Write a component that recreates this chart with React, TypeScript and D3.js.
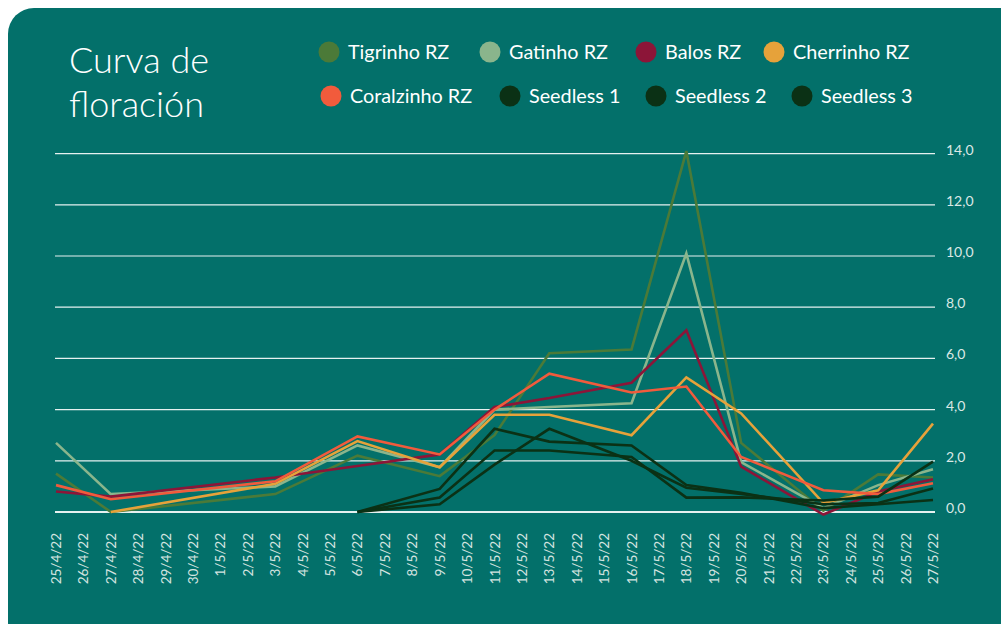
import React from 'react';
import * as d3 from 'd3';

// all days shown on the axis
const dates = [
  '25/4/22', '26/4/22', '27/4/22', '28/4/22', '29/4/22', '30/4/22',
  '1/5/22', '2/5/22', '3/5/22', '4/5/22', '5/5/22', '6/5/22', '7/5/22',
  '8/5/22', '9/5/22', '10/5/22', '11/5/22', '12/5/22', '13/5/22', '14/5/22',
  '15/5/22', '16/5/22', '17/5/22', '18/5/22', '19/5/22', '20/5/22', '21/5/22',
  '22/5/22', '23/5/22', '24/5/22', '25/5/22', '26/5/22', '27/5/22',
];

// days on which flowering was counted
const sampleDates = [
  '25/4/22', '27/4/22', '3/5/22', '6/5/22', '9/5/22', '11/5/22', '13/5/22',
  '16/5/22', '18/5/22', '20/5/22', '23/5/22', '25/5/22', '27/5/22',
];

const tigrinho = [1.5, 0.0, 0.7, 2.2, 1.4, 3.0, 6.2, 6.35, 14.1, 2.7, 0.05, 1.47, 1.35];
const gatinho = [2.7, 0.7, 1.0, 2.6, 1.75, 4.0, 4.1, 4.25, 10.1, 1.95, 0.15, 1.05, 1.67];
const balos = [0.8, 0.6, 1.35, 1.8, 2.25, 4.1, 4.45, 5.05, 7.1, 1.77, -0.1, 0.8, 1.28];
const cherrinho = [null, 0.0, 1.1, 2.77, 1.75, 3.8, 3.8, 3.0, 5.26, 3.85, 0.35, 0.85, 3.45];
const coralzinho = [1.05, 0.5, 1.2, 2.95, 2.25, 4.0, 5.4, 4.67, 4.9, 2.15, 0.85, 0.7, 1.12];
const seedless1 = [null, null, null, 0, 0.9, 3.25, 2.75, 2.6, 1.05, 0.75, 0.15, 0.3, 0.47];
const seedless2 = [null, null, null, 0, 0.57, 2.4, 2.4, 2.15, 0.56, 0.57, 0.45, 0.6, 1.97];
const seedless3 = [null, null, null, 0, 0.3, 1.85, 3.25, 2.0, 0.95, 0.7, 0.3, 0.35, 0.92];

const yTicks = [0, 2, 4, 6, 8, 10, 12, 14];

const series = [
  { name: 'Tigrinho RZ', values: tigrinho, color: '#4b7a38' },
  { name: 'Gatinho RZ', values: gatinho, color: '#8ab58c' },
  { name: 'Balos RZ', values: balos, color: '#8c1538' },
  { name: 'Cherrinho RZ', values: cherrinho, color: '#e6a23a' },
  { name: 'Coralzinho RZ', values: coralzinho, color: '#f15b3c' },
  { name: 'Seedless 1', values: seedless1, color: '#0b3115' },
  { name: 'Seedless 2', values: seedless2, color: '#0b3115' },
  { name: 'Seedless 3', values: seedless3, color: '#0b3115' },
];

// legend layout (two rows)
const legendPos = [
  [329, 52], [490, 52], [646, 52], [774, 52],
  [331, 96], [510, 96], [656, 96], [802, 96],
];

const W = 1001;
const H = 624;
const bg = '#03706a';
const font = 'Lato, "Open Sans", sans-serif';

export default function App() {
  const x = d3.scalePoint<string>().domain(dates).range([56, 933]);
  const y = d3.scaleLinear().domain([0, 14]).range([512, 153.6]);

  const line = d3
    .line<[string, number | null]>()
    .x((d) => x(d[0]) as number)
    .y((d) => y(d[1] as number));

  return (
    <svg width={W} height={H} style={{ position: 'absolute', left: 0, top: 0 }}>
      <rect width={W} height={H} fill="#fff" />
      <rect x={8} y={8} width={1020} height={640} rx={26} fill={bg} />

      <text x={69} y={73} fill="#fff" fontFamily={font} fontWeight={300} fontSize={36}>
        Curva de
      </text>
      <text x={69} y={117} fill="#fff" fontFamily={font} fontWeight={300} fontSize={36}>
        floración
      </text>

      {series.map((s, i) => (
        <g key={s.name} transform={`translate(${legendPos[i][0]},${legendPos[i][1]})`}>
          <circle r={10.5} fill={s.color} />
          <text x={19} y={6.8} fill="#fff" fontFamily={font} fontSize={19.8}>
            {s.name}
          </text>
        </g>
      ))}

      {yTicks.map((t) => (
        <g key={t}>
          <line x1={55} x2={935} y1={y(t)} y2={y(t)} stroke="#fff" strokeWidth={t === 0 ? 1.8 : 1.2} opacity={0.9} />
          <text x={946} y={y(t) + 1} fill="#dbe8e5" fontFamily={font} fontSize={14}>
            {d3.format('.1f')(t).replace('.', ',')}
          </text>
        </g>
      ))}

      {dates.map((d) => (
        <text
          key={d}
          transform={`translate(${(x(d) as number) + 5},533) rotate(-90)`}
          textAnchor="end"
          fill="#d5e4e0"
          fontFamily={font}
          fontSize={13.5}
        >
          {d}
        </text>
      ))}

      {series.map((s) => {
        const pts = sampleDates
          .map((d, i) => [d, s.values[i]] as [string, number | null])
          .filter((p) => p[1] !== null);
        return (
          <path
            key={s.name}
            d={line(pts) ?? ''}
            fill="none"
            stroke={s.color}
            strokeWidth={2.6}
            strokeLinejoin="miter"
          />
        );
      })}
    </svg>
  );
}
